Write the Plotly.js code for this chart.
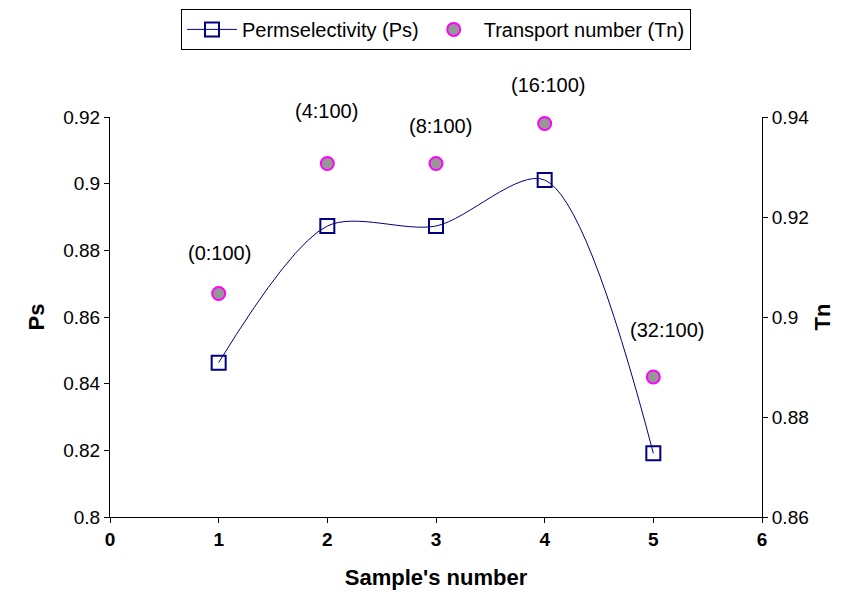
<!DOCTYPE html>
<html>
<head>
<meta charset="utf-8">
<script src="https://cdn.plot.ly/plotly-3.0.1.min.js"></script>
<style>html,body{margin:0;padding:0;background:#fff;}#chart{width:858px;height:592px;}</style>
</head>
<body>
<div id="chart"></div>
<script>
var samples = [1, 2, 3, 4, 5];
var ps = [0.8463, 0.8873, 0.8873, 0.9011, 0.8191];
var tn = [0.9047, 0.9307, 0.9307, 0.9387, 0.8880];
var ratioLabels = ["(0:100)", "(4:100)", "(8:100)", "(16:100)", "(32:100)"];
var xTicks = [0, 1, 2, 3, 4, 5, 6];
var psTicks = [0.8, 0.82, 0.84, 0.86, 0.88, 0.9, 0.92];
var tnTicks = [0.86, 0.88, 0.9, 0.92, 0.94];

var labelShift = [[1, 41], [-1, 53], [4, 38], [4, 39], [14, 47]];
var FONT = "Liberation Sans, Arial, sans-serif";

var traces = [
  {
    x: samples, y: ps, name: "Permselectivity (Ps)", type: "scatter", mode: "lines+markers",
    line: {color: "#000080", width: 1, shape: "spline", smoothing: 0.85},
    marker: {symbol: "square-open", size: 14, color: "#000080", line: {width: 2, color: "#000080"}},
    yaxis: "y", cliponaxis: false
  },
  {
    x: samples, y: tn, name: "Transport number (Tn)", type: "scatter", mode: "markers",
    marker: {symbol: "circle", size: 13, color: "#969696", line: {width: 2, color: "#FF00FF"}},
    yaxis: "y2", cliponaxis: false
  }
];

var annotations = ratioLabels.map(function (t, i) {
  return {
    x: samples[i], y: tn[i], xref: "x", yref: "y2", text: t, showarrow: false,
    xshift: labelShift[i][0], yshift: labelShift[i][1],
    font: {family: FONT, size: 20, color: "#000"}
  };
});

var axisCommon = {
  showgrid: false, zeroline: false, showline: true, linecolor: "#000", linewidth: 1,
  ticks: "outside", ticklen: 5, tickcolor: "#000", tickwidth: 1
};

var layout = {
  width: 858, height: 592,
  margin: {l: 110, r: 96, t: 117, b: 75},
  paper_bgcolor: "#fff", plot_bgcolor: "#fff",
  font: {family: FONT, size: 18, color: "#000"},
  showlegend: true,
  legend: {
    orientation: "h", x: 0.5, xref: "paper", xanchor: "center", y: 0.985, yref: "container", yanchor: "top",
    bordercolor: "#000", borderwidth: 1, bgcolor: "#fff", itemwidth: 50,
    font: {family: FONT, size: 20, color: "#000"}
  },
  xaxis: Object.assign({}, axisCommon, {
    range: [0, 6], tickvals: xTicks, ticktext: xTicks.map(String),
    tickfont: {family: FONT, size: 19, weight: "bold"},
    title: {text: "Sample's number", font: {family: FONT, size: 22, weight: "bold"}, standoff: 20}
  }),
  yaxis: Object.assign({}, axisCommon, {
    range: [0.8, 0.92], tickvals: psTicks, ticktext: psTicks.map(function (v) { return String(v); }),
    tickfont: {family: FONT, size: 19},
    title: {text: "Ps", font: {family: FONT, size: 22, weight: "bold"}, standoff: 12}
  }),
  yaxis2: Object.assign({}, axisCommon, {
    overlaying: "y", side: "right", range: [0.86, 0.94], tickvals: tnTicks,
    ticktext: tnTicks.map(function (v) { return String(v); }),
    tickfont: {family: FONT, size: 19},
    title: {text: "Tn", font: {family: FONT, size: 22, weight: "bold"}, standoff: 6}
  }),
  annotations: annotations
};

Plotly.newPlot("chart", traces, layout, {displayModeBar: false, staticPlot: true});
</script>
</body>
</html>
